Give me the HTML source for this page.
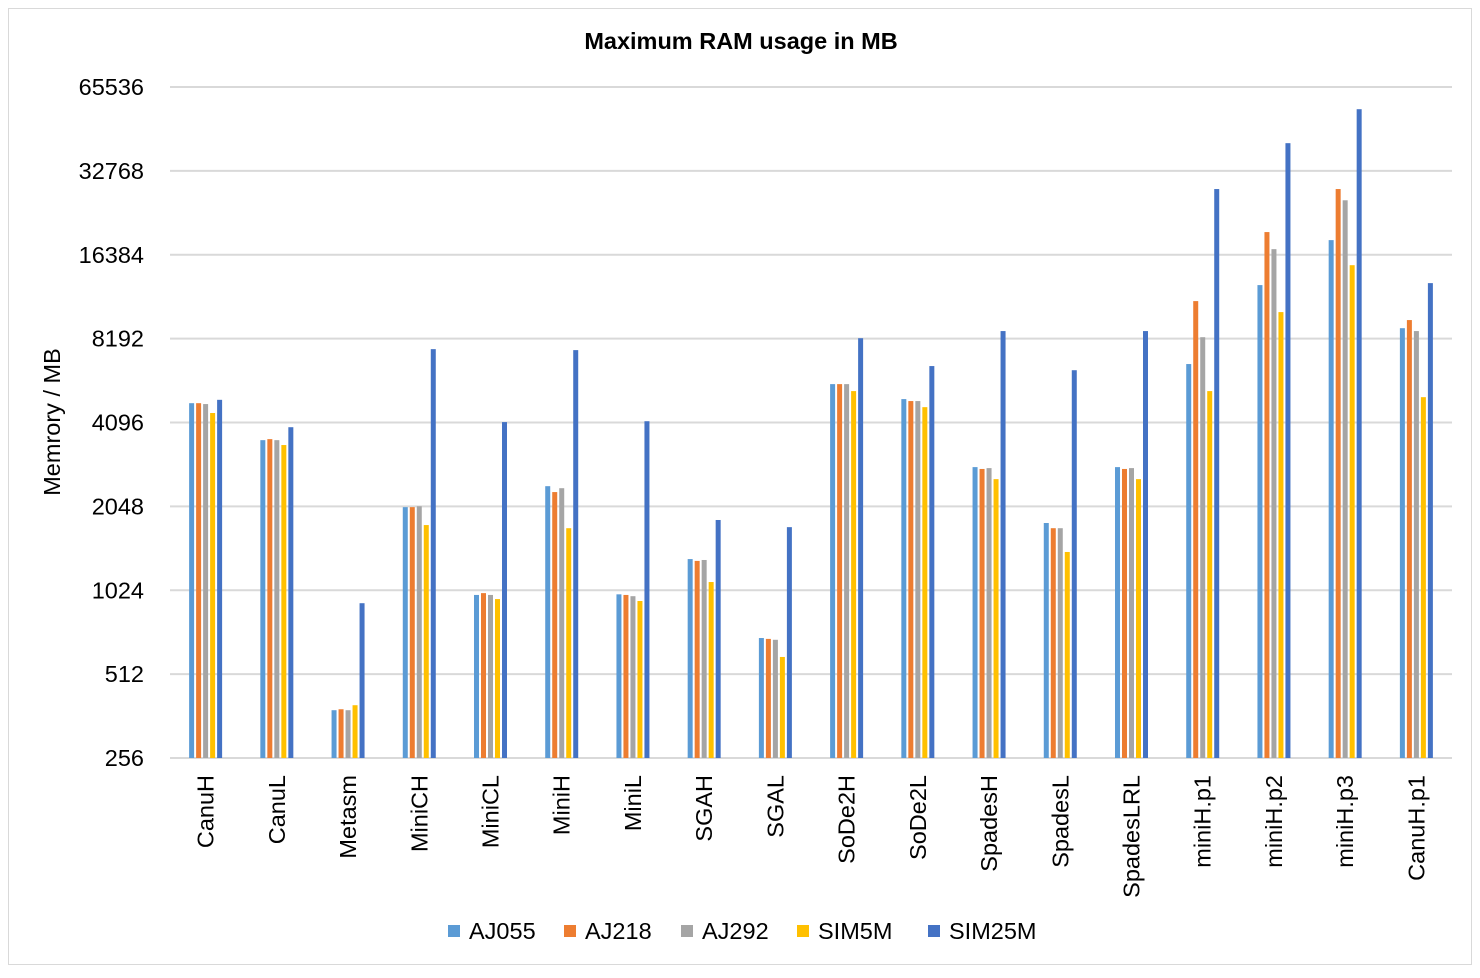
<!DOCTYPE html>
<html><head><meta charset="utf-8"><style>
body{margin:0;background:#fff;font-family:"Liberation Sans",sans-serif}
</style></head><body>
<svg id="chart" width="1480" height="973" xmlns="http://www.w3.org/2000/svg" font-family="Liberation Sans, sans-serif">
<rect x="8.5" y="8.5" width="1463" height="956" fill="#fff" stroke="#d9d9d9"/>
<text x="741" y="49" text-anchor="middle" font-size="23.5" font-weight="bold" fill="#000">Maximum RAM usage in MB</text>
<text transform="translate(60,422) rotate(-90)" text-anchor="middle" font-size="23.5" fill="#000">Memrory / MB</text>
<g id="grid"></g><g id="bars"></g><g id="labels"></g>
<g id="legend"></g>
</svg>
<script>
const categories=["CanuH","CanuL","Metasm","MiniCH","MiniCL","MiniH","MiniL","SGAH","SGAL","SoDe2H","SoDe2L","SpadesH","SpadesL","SpadesLRL","miniH.p1","miniH.p2","miniH.p3","CanuH.p1"];
const seriesNames=["AJ055","AJ218","AJ292","SIM5M","SIM25M"];
const AJ055=[4805,3540,380,2035,985,2420,990,1325,690,5625,4970,2833,1785,2833,6640,12750,18490,8930];
const AJ218=[4805,3570,383,2035,1000,2305,985,1305,685,5625,4890,2790,1710,2790,11170,19760,28200,9550];
const AJ292=[4770,3540,380,2050,985,2380,975,1315,680,5625,4890,2810,1710,2810,8290,17160,25700,8720];
const SIM5M=[4430,3400,396,1755,952,1710,937,1096,590,5310,4650,2565,1405,2565,5310,10200,15030,5050];
const SIM25M=[4940,3940,920,7510,4110,7450,4140,1830,1725,8220,6530,8720,6310,8720,28200,41200,54550,12960];
const yTicks=[256,512,1024,2048,4096,8192,16384,32768,65536];
const colors=["#5B9BD5","#ED7D31","#A5A5A5","#FFC000","#4472C4"];
const series=[AJ055,AJ218,AJ292,SIM5M,SIM25M];
const NS="http://www.w3.org/2000/svg";
const x0=170,x1=1452,yBase=758,perOct=83.875;
const y=v=>yBase-Math.log2(v/256)*perOct;
const band=(x1-x0)/categories.length;
const cx=i=>x0+band*(i+0.5);
function mk(t,a,p){const e=document.createElementNS(NS,t);for(const k in a)e.setAttribute(k,a[k]);p.appendChild(e);return e;}
const grid=document.getElementById('grid');
yTicks.forEach(t=>{
 const l=mk('line',{x1:x0,x2:x1,y1:y(t),y2:y(t),stroke:'#d9d9d9','stroke-width':2},grid);
 
 
 const tx=mk('text',{x:144,y:y(t)+8,'text-anchor':'end','font-size':23.5,fill:'#000'},grid);
 
 
 tx.textContent=t;
});
const bars=document.getElementById('bars');
categories.forEach((c,i)=>{
 series.forEach((s,j)=>{
  const r=mk('rect',{x:cx(i)-16.5+j*7,y:y(s[i]),width:5,height:yBase-y(s[i]),fill:colors[j]},bars);
  
  
 });
 const t=mk('text',{transform:`translate(${cx(i)+8},775) rotate(-90)`,'text-anchor':'end','font-size':23.5,fill:'#000'},document.getElementById('labels'));
 
 
 t.textContent=c;
});
const lg=document.getElementById('legend');
const lx=[448,564,681,797,928];
seriesNames.forEach((n,j)=>{
 const r=mk('rect',{x:lx[j],y:925,width:12,height:12,fill:colors[j]},lg);
 
 
 const t=mk('text',{x:lx[j]+21,y:939,'font-size':23.5,fill:'#000'},lg);
 
 
 t.textContent=n;
});
</script>
</body></html>
